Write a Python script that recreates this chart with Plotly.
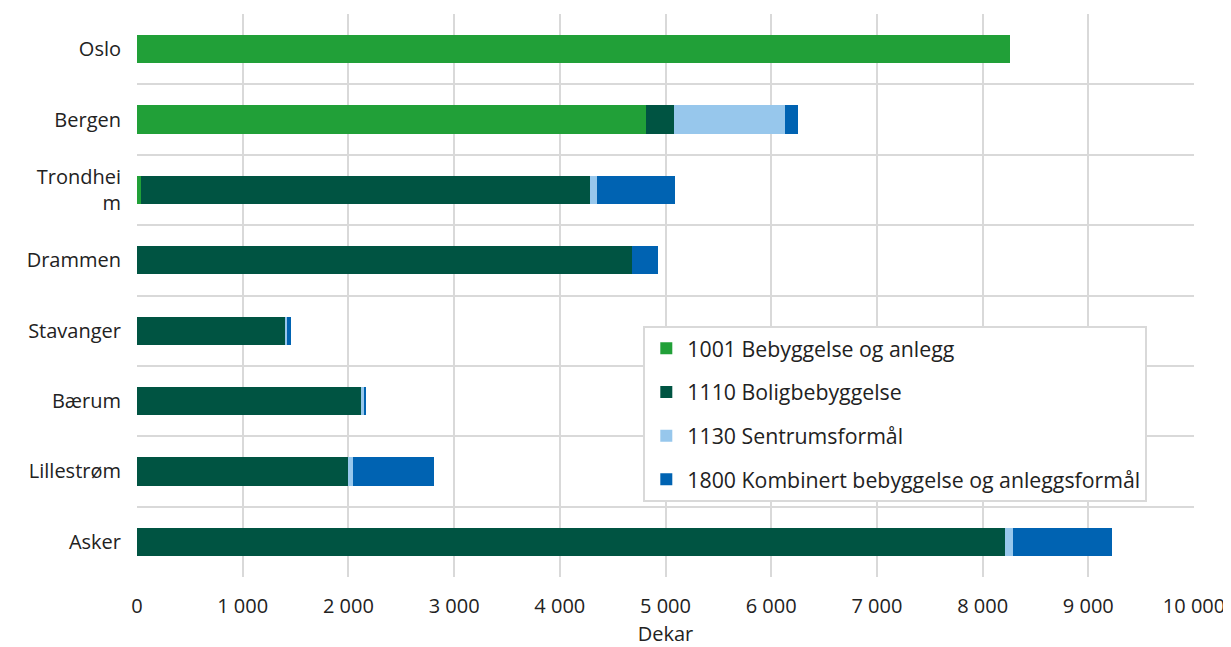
import plotly.graph_objects as go

# Kommuner (top to bottom as drawn)
kommuner = ["Oslo", "Bergen", "Trondhei<br>m", "Drammen", "Stavanger", "Bærum", "Lillestrøm", "Asker"]

# Dekar per arealformål
bebyggelse_anlegg = [8255, 4820, 38, 0, 0, 0, 0, 0]
boligbebyggelse = [0, 265, 4248, 4679, 1406, 2123, 2000, 8208]
sentrumsformal = [0, 1047, 66, 0, 14, 34, 41, 78]
kombinert = [0, 123, 736, 248, 39, 5, 773, 934]

series = [
    ("1001 Bebyggelse og anlegg", bebyggelse_anlegg, "#21A038"),
    ("1110 Boligbebyggelse", boligbebyggelse, "#005442"),
    ("1130 Sentrumsformål", sentrumsformal, "#97C7EC"),
    ("1800 Kombinert bebyggelse og anleggsformål", kombinert, "#0063B2"),
]

x_ticks = list(range(0, 10001, 1000))

fig = go.Figure()

for name, values, color in series:
    fig.add_trace(go.Bar(
        y=kommuner,
        x=values,
        name=name,
        orientation="h",
        marker_color=color,
        marker_line_width=0,
        legendgroup=name,
    ))

# page body has an 8px margin, so the figure is sized to fit the window
fig.update_layout(
    barmode="stack",
    bargap=0.6,
    width=1223,
    height=639,
    plot_bgcolor="white",
    paper_bgcolor="white",
    separators=", ",
    font=dict(family="Open Sans, Noto Sans, sans-serif", size=20, color="#222222"),
    margin=dict(l=129, r=34, t=6, b=70),
    legend=dict(
        x=0.479, y=0.446,
        xanchor="left", yanchor="top",
        traceorder="grouped",
        bordercolor="#D9D9D9",
        borderwidth=2,
        bgcolor="white",
        font=dict(size=21.3),
        tracegroupgap=13,
        itemwidth=32,
    ),
    xaxis=dict(
        range=[0, 10000],
        tickvals=x_ticks,
        tickformat=",d",
        showgrid=True,
        gridcolor="#D9D9D9",
        gridwidth=2,
        zeroline=False,
        ticks="",
        ticklabelstandoff=15,
        title=dict(text="Dekar", standoff=8, font=dict(size=20)),
    ),
    yaxis=dict(
        type="category",
        categoryorder="array",
        categoryarray=kommuner[::-1],
        tickson="boundaries",
        showgrid=True,
        gridcolor="#D9D9D9",
        gridwidth=2,
        ticks="",
        ticklabelstandoff=15,
    ),
)

fig.write_html("out.html")
